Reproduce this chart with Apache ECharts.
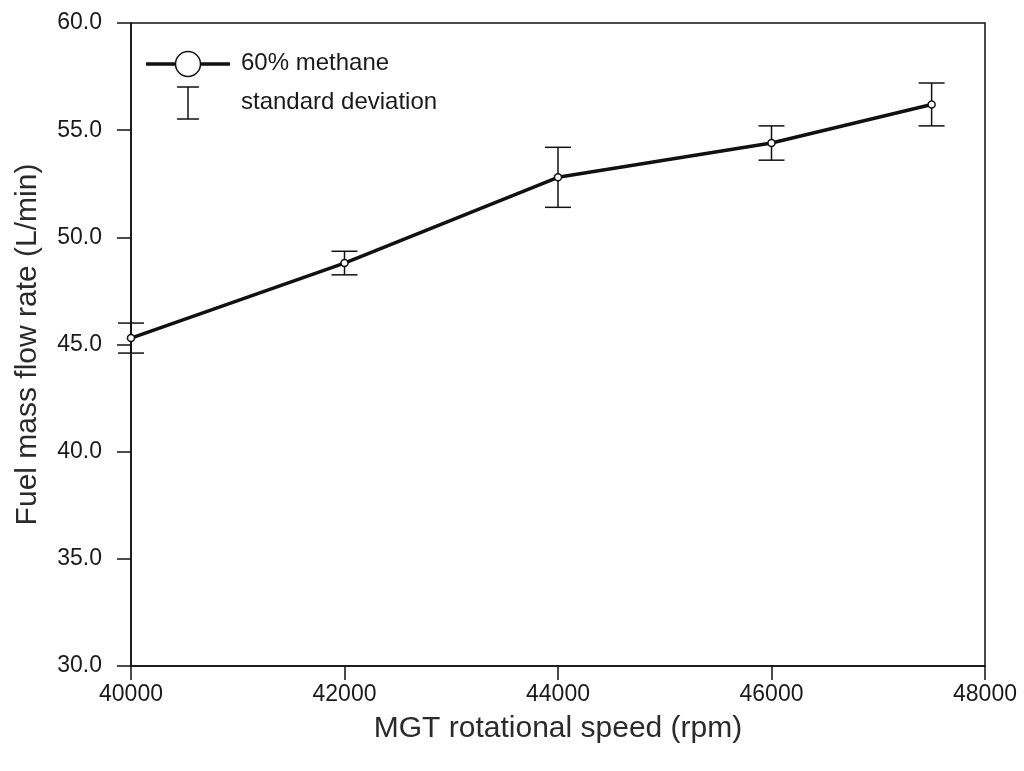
<!DOCTYPE html>
<html>
<head>
<meta charset="utf-8">
<script src="https://cdn.jsdelivr.net/npm/echarts@6/dist/echarts.min.js"></script>
<style>
  html, body { margin: 0; padding: 0; background: #fff; }
  #chart { width: 1024px; height: 771px; }
</style>
</head>
<body>
<div id="chart"></div>
<script>
// Rotational speed of the micro gas turbine (rpm)
const speeds = [40000, 42000, 44000, 46000, 47500];
// Mean fuel flow rate for the 60% methane blend (L/min)
const flowMean = [45.3, 48.8, 52.8, 54.4, 56.2];
// One standard deviation about each mean (L/min)
const flowStd = [0.7, 0.55, 1.4, 0.8, 1.0];

const seriesName = '60% methane';
const errorName = 'standard deviation';

const FONT = '"Liberation Sans", Arial, sans-serif';
const INK = '#111';

const lineData = speeds.map((s, i) => [s, flowMean[i]]);
const errData = speeds.map((s, i) => [s, flowMean[i] - flowStd[i], flowMean[i] + flowStd[i]]);

const chart = echarts.init(document.getElementById('chart'), null, { renderer: 'canvas' });

chart.setOption({
  backgroundColor: '#fff',
  animation: false,
  grid: {
    left: 131, right: 39, top: 23, bottom: 105,
    show: true, borderColor: INK, borderWidth: 1.5, backgroundColor: 'transparent'
  },
  xAxis: {
    type: 'value',
    min: 40000, max: 48000, interval: 2000,
    name: 'MGT rotational speed (rpm)',
    nameLocation: 'middle',
    nameGap: 48,
    nameTextStyle: { fontFamily: FONT, fontSize: 30, color: '#2a2a2a' },
    axisLine: { show: true, onZero: false, lineStyle: { color: INK, width: 1.5 } },
    axisTick: { show: true, inside: false, length: 14, lineStyle: { color: INK, width: 1.5 } },
    axisLabel: { margin: 17, fontFamily: FONT, fontSize: 23, color: '#1a1a1a', formatter: v => String(v) },
    splitLine: { show: false }
  },
  yAxis: {
    type: 'value',
    min: 30, max: 60, interval: 5,
    name: 'Fuel mass flow rate (L/min)',
    nameLocation: 'middle',
    nameGap: 88,
    nameTextStyle: { fontFamily: FONT, fontSize: 30, color: '#2a2a2a' },
    axisLine: { show: true, onZero: false, lineStyle: { color: INK, width: 1.5 } },
    axisTick: { show: true, inside: false, length: 14, lineStyle: { color: INK, width: 1.5 } },
    axisLabel: {
      margin: 29, fontFamily: FONT, fontSize: 23, color: '#1a1a1a',
      formatter: v => v.toFixed(1)
    },
    splitLine: { show: false }
  },
  series: [
    {
      name: errorName,
      type: 'custom',
      z: 3,
      data: errData,
      renderItem: function (params, api) {
        const x = api.value(0);
        const lo = api.coord([x, api.value(1)]);
        const hi = api.coord([x, api.value(2)]);
        const hw = 13;
        const style = { stroke: INK, lineWidth: 1.5, fill: null };
        return {
          type: 'group',
          children: [
            { type: 'line', shape: { x1: hi[0], y1: hi[1], x2: lo[0], y2: lo[1] }, style },
            { type: 'line', shape: { x1: hi[0] - hw, y1: hi[1], x2: hi[0] + hw, y2: hi[1] }, style },
            { type: 'line', shape: { x1: lo[0] - hw, y1: lo[1], x2: lo[0] + hw, y2: lo[1] }, style }
          ]
        };
      }
    },
    {
      name: seriesName,
      type: 'line',
      z: 4,
      data: lineData,
      symbol: 'circle',
      symbolSize: 7,
      showAllSymbol: true,
      lineStyle: { color: INK, width: 3.5 },
      itemStyle: { color: '#fff', borderColor: INK, borderWidth: 1.5 }
    }
  ],
  graphic: [
    // legend key: line with open circle
    { type: 'line', shape: { x1: 146, y1: 64, x2: 230, y2: 64 }, style: { stroke: INK, lineWidth: 3.5 }, z: 10 },
    { type: 'circle', shape: { cx: 188, cy: 64, r: 12.5 }, style: { fill: '#fff', stroke: INK, lineWidth: 1.5 }, z: 11 },
    { type: 'text', left: 241, top: 51, style: { text: seriesName, font: '24px ' + FONT, fill: '#1a1a1a' }, z: 11 },
    // legend key: error bar
    { type: 'line', shape: { x1: 188, y1: 87, x2: 188, y2: 119 }, style: { stroke: INK, lineWidth: 1.5 }, z: 10 },
    { type: 'line', shape: { x1: 177, y1: 87, x2: 199, y2: 87 }, style: { stroke: INK, lineWidth: 1.5 }, z: 10 },
    { type: 'line', shape: { x1: 177, y1: 119, x2: 199, y2: 119 }, style: { stroke: INK, lineWidth: 1.5 }, z: 10 },
    { type: 'text', left: 241, top: 90, style: { text: errorName, font: '24px ' + FONT, fill: '#1a1a1a' }, z: 11 }
  ]
});
</script>
</body>
</html>
